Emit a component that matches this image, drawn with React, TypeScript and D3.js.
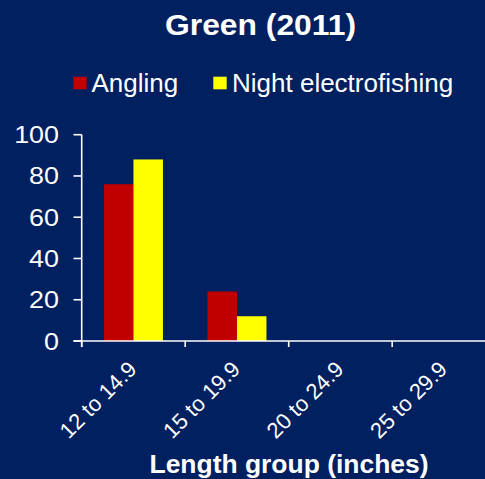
import React from "react";
import * as d3 from "d3";

const categories = ["12 to 14.9", "15 to 19.9", "20 to 24.9", "25 to 29.9"];
const seriesNames = ["Angling", "Night electrofishing"];
const angling = [76, 24, 0, 0];
const nightElectrofishing = [88, 12, 0, 0];
const yTicks = [0, 20, 40, 60, 80, 100];
const seriesColors = ["#C00000", "#FFFF00"];

const W = 485;
const H = 479;
const BG = "#002060";
const FONT = "'Liberation Sans', Arial, sans-serif";

export default function App() {
  const x0 = 81.7;
  const step = 103.5;
  const x = d3
    .scaleBand<string>()
    .domain(categories)
    .range([x0, x0 + step * categories.length])
    .paddingInner(0)
    .paddingOuter(0);
  const xs = d3
    .scaleBand<string>()
    .domain(seriesNames)
    .range([0, x.bandwidth()])
    .paddingInner(0)
    .paddingOuter(0.754);
  const y = d3.scaleLinear().domain([0, 100]).range([341, 134.7]);

  const series = [angling, nightElectrofishing];

  return (
    <svg
      width={W}
      height={H}
      style={{ position: "absolute", left: 0, top: 0, display: "block" }}
      fontFamily={FONT}
    >
      <rect x={0} y={0} width={W} height={H} fill={BG} />
      <text
        x={260.5}
        y={34.5}
        textAnchor="middle"
        fill="#fff"
        fontWeight="bold"
        fontSize={29}
        textLength={191}
        lengthAdjust="spacingAndGlyphs"
      >
        Green (2011)
      </text>

      {/* legend */}
      <rect x={73.3} y={76.7} width={13.4} height={12.6} fill={seriesColors[0]} />
      <text x={91.5} y={92.3} fill="#fff" fontSize={26}>
        {seriesNames[0]}
      </text>
      <rect x={213.3} y={76.7} width={13.4} height={12.6} fill={seriesColors[1]} />
      <text x={232} y={92.3} fill="#fff" fontSize={26}>
        {seriesNames[1]}
      </text>

      {/* bars */}
      {categories.map((c, i) =>
        series.map((s, j) =>
          s[i] > 0 ? (
            <rect
              key={c + j}
              x={(x(c) as number) + (xs(seriesNames[j]) as number)}
              y={y(s[i])}
              width={xs.bandwidth()}
              height={y(0) - y(s[i])}
              fill={seriesColors[j]}
            />
          ) : null
        )
      )}

      {/* y axis */}
      <line x1={x0} x2={x0} y1={y(100)} y2={347} stroke="#fff" strokeWidth={1.6} />
      {yTicks.map((t) => (
        <g key={t}>
          <line x1={73.5} x2={x0} y1={y(t)} y2={y(t)} stroke="#fff" strokeWidth={1.6} />
          <text
            transform={`translate(59,${y(t) + 8.5}) scale(1.12,1)`}
            textAnchor="end"
            fill="#fff"
            fontSize={24}
          >
            {t}
          </text>
        </g>
      ))}

      {/* x axis */}
      <line x1={73.5} x2={W} y1={y(0)} y2={y(0)} stroke="#fff" strokeWidth={1.6} />
      {categories.map((c) => (
        <line
          key={c}
          x1={x(c) as number}
          x2={x(c) as number}
          y1={y(0)}
          y2={347}
          stroke="#fff"
          strokeWidth={1.6}
        />
      ))}
      {categories.map((c) => {
        const cx = (x(c) as number) + x.bandwidth() / 2 + 4.5;
        return (
          <text
            key={c}
            transform={`translate(${cx},370.5) rotate(-45)`}
            textAnchor="end"
            fill="#fff"
            fontSize={22}
          >
            {c}
          </text>
        );
      })}

      <text
        x={289}
        y={473}
        textAnchor="middle"
        fill="#fff"
        fontWeight="bold"
        fontSize={25}
        textLength={279}
        lengthAdjust="spacingAndGlyphs"
      >
        Length group (inches)
      </text>
    </svg>
  );
}
